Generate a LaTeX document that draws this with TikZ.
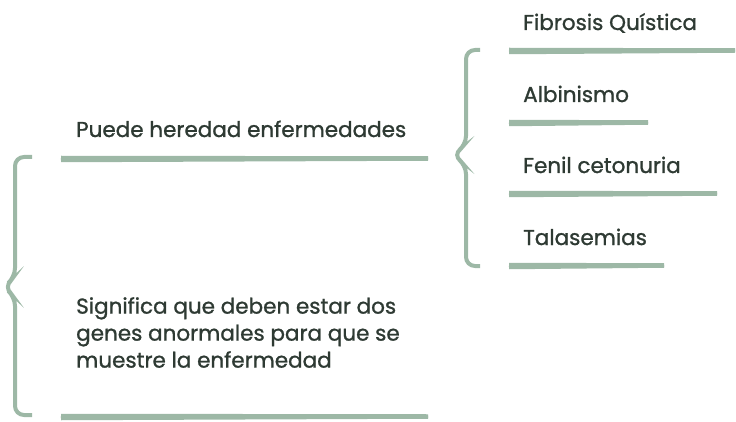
\documentclass[tikz,border=0pt]{standalone}
\usepackage{fontspec}
\setmainfont{Poppins}
\newfontfamily\labelfont{Poppins}[UprightFeatures={FakeBold=1.1}]
\definecolor{sage}{HTML}{9DB8A6}
\definecolor{ink}{HTML}{2E3A33}

\begin{document}
\begin{tikzpicture}[x=1pt,y=-1pt,
    rule/.style={sage, line width=3.5pt},
    curly/.style={sage, line width=4pt, rounded corners=9pt},
    label/.style={anchor=base west, inner sep=0pt, text=ink,
        font=\labelfont\fontsize{21.5}{27}\selectfont}]

    \useasboundingbox (0,0) rectangle (736,422);

    % left part
    \node[label] (heredad) at (76,137) {Puede heredad enfermedades};
    \node[label, anchor=north west, align=left] (significa) at (76,297)
        {Significa que deben estar dos\\genes anormales para que se\\muestre la enfermedad};

    \coordinate (h1) at (61,159);  \coordinate (h2) at (428,159);
    \coordinate (s1) at (61,417);  \coordinate (s2) at (428,417);
    \draw[rule] ([yshift=-1.5pt]h1) -- (h2);
    \draw[rule] ([yshift=1.5pt]h1) -- ([yshift=1pt]h2);
    \draw[rule] ([yshift=-1.5pt]s1) -- (s2);
    \draw[rule] ([yshift=1.5pt]s1) -- ([yshift=1pt]s2);

    \draw[curly] (32,157) -- (15,157) -- (15,277) -- (4,287) -- (15,297) -- (15,415) -- (32,415);

    % right part
    \draw[curly] (480,50) -- (466,50) -- (466,145) -- (453,155) -- (466,165) -- (466,266) -- (480,266);

    \foreach \nm/\txt/\yy/\xe in {fibrosis/Fibrosis Quística/30/735,
                                  albinismo/Albinismo/102/648,
                                  fenil/Fenil cetonuria/173/717,
                                  talasemias/Talasemias/245/664}{
        \node[label] (\nm) at (523,\yy) {\txt};
        \coordinate (\nm-a) at (509,\yy+21);
        \coordinate (\nm-b) at (\xe,\yy+21);
        \draw[rule] ([yshift=-1.5pt]\nm-a) -- (\nm-b);
        \draw[rule] ([yshift=1.5pt]\nm-a) -- ([yshift=1pt]\nm-b);
    }

\end{tikzpicture}
\end{document}
